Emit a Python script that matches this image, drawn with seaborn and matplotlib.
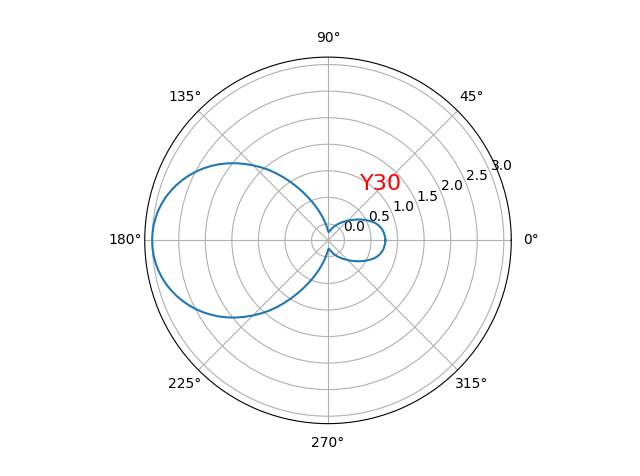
import numpy as np
import matplotlib
matplotlib.use("Agg")
import matplotlib.pyplot as plt
import seaborn as sns

# angle grid (deg) and radius
theta_deg = np.arange(0, 360.1, 2.5)
radius = [
    0.77, 0.768, 0.76, 0.752, 0.74, 0.722, 0.70, 0.672, 0.64, 0.60,
    0.555, 0.51, 0.465, 0.42, 0.375, 0.332, 0.29, 0.252, 0.215, 0.18,
    0.148, 0.117, 0.088, 0.061, 0.035, 0.011, -0.013, -0.036, -0.058, -0.078,
    -0.098, -0.116, -0.132, -0.144, -0.150, -0.142, -0.125, -0.094, -0.055, -0.005,
    0.05, 0.12, 0.195, 0.282, 0.375, 0.48, 0.59, 0.715, 0.845, 0.985,
    1.13, 1.275, 1.42, 1.555, 1.69, 1.82, 1.95, 2.072, 2.19, 2.297,
    2.40, 2.493, 2.58, 2.658, 2.73, 2.792, 2.85, 2.895, 2.935, 2.962,
    2.985, 2.996, 3.00,
    2.996, 2.985, 2.962, 2.935, 2.895, 2.85, 2.792, 2.73, 2.658, 2.58,
    2.493, 2.40, 2.297, 2.19, 2.072, 1.95, 1.82, 1.69, 1.555, 1.42,
    1.275, 1.13, 0.985, 0.845, 0.715, 0.59, 0.48, 0.375, 0.282, 0.195,
    0.12, 0.05, -0.005, -0.055, -0.094, -0.125, -0.142, -0.150, -0.144, -0.132,
    -0.116, -0.098, -0.078, -0.058, -0.036, -0.013, 0.011, 0.035, 0.061, 0.088,
    0.117, 0.148, 0.18, 0.215, 0.252, 0.29, 0.332, 0.375, 0.42, 0.465,
    0.51, 0.555, 0.60, 0.64, 0.672, 0.70, 0.722, 0.74, 0.752, 0.76,
    0.768, 0.77,
]
label = "Y30"

theta = np.deg2rad(theta_deg)

fig = plt.figure(figsize=(6.4, 4.76), dpi=100)
ax = fig.add_subplot(111, projection="polar")
sns.lineplot(x=theta, y=radius, ax=ax, color="#1f77b4", linewidth=1.5, sort=False)
ax.set_ylim(-0.31, 3.14)
ax.set_xlabel("")
ax.set_ylabel("")
ax.text(1.0, 0.82, label, color="red", fontsize=16)

fig.savefig("out.png", dpi=100)
